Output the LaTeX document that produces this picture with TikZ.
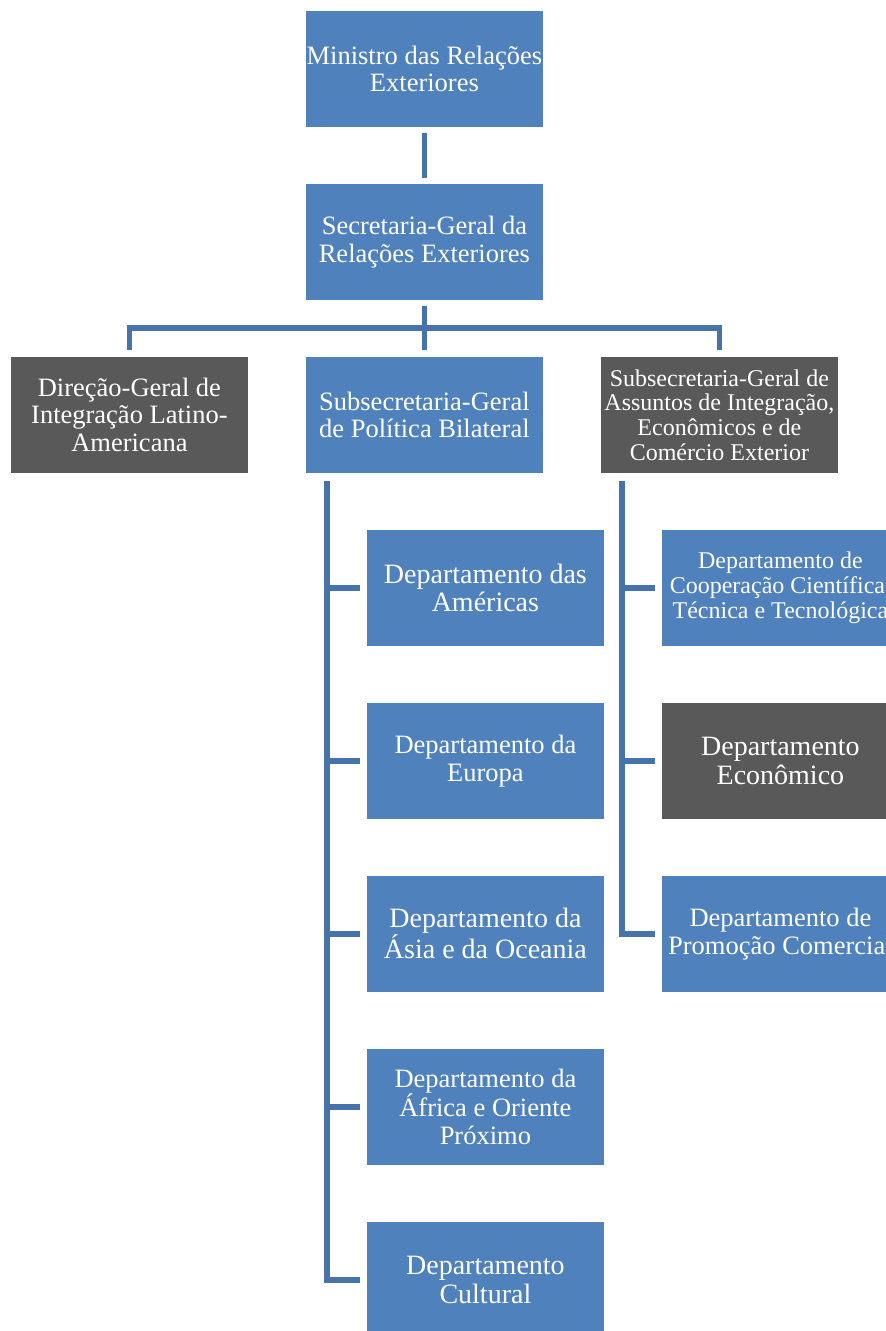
\documentclass[tikz,border=0pt]{standalone}
\usepackage{fontspec}
\setmainfont{Liberation Serif}
\definecolor{boxblue}{RGB}{79,129,189}
\definecolor{boxgray}{RGB}{89,89,89}
\definecolor{linkblue}{RGB}{70,116,170}
\begin{document}
\begin{tikzpicture}[x=1pt,y=-1pt,
  unit/.style={rectangle,minimum width=238pt,minimum height=117pt,inner sep=0pt,
    draw=white,line width=0.8pt,text=white,align=center,anchor=north west,
    font=\fontsize{26.5}{27.5}\selectfont},
  blueunit/.style={unit,fill=boxblue},
  grayunit/.style={unit,fill=boxgray},
  bigtext/.style={font=\fontsize{28}{28.5}\selectfont},
  smalltext/.style={font=\fontsize{24}{24.7}\selectfont},
  link/.style={draw=linkblue,line width=5.5pt}]
\path[use as bounding box,clip] (0,0) rectangle (886,1331);
\fill[white] (0,0) rectangle (886,1331);

% top of the hierarchy
\node[blueunit] (minis) at (305,10) {Ministro das Relações\\Exteriores};
\node[blueunit] (secgeral) at (305,183) {Secretaria-Geral da\\Relações Exteriores};

% second level
\node[grayunit] (dgil) at (10,356) {Direção-Geral de\\Integração Latino-\\Americana};
\node[blueunit] (sgpb) at (305,356) {Subsecretaria-Geral\\de Política Bilateral};
\node[grayunit,smalltext] (sgaie) at (600,356) {Subsecretaria-Geral de\\Assuntos de Integração,\\Econômicos e de\\Comércio Exterior};

% departments under political affairs
\node[blueunit,bigtext] (dam) at (366,529) {Departamento das\\Américas};
\node[blueunit] (deu) at (366,702) {Departamento da\\Europa};
\node[blueunit,bigtext] (dao) at (366,875) {Departamento da\\Ásia e da Oceania};
\node[blueunit] (daf) at (366,1048) {Departamento da\\África e Oriente\\Próximo};
\node[blueunit,bigtext] (dcu) at (366,1221) {Departamento\\Cultural};

% departments under economic affairs
\node[blueunit,smalltext] (dcct) at (661,529) {Departamento de\\Cooperação Científica,\\Técnica e Tecnológica};
\node[grayunit,bigtext] (dec) at (661,702) {Departamento\\Econômico};
\node[blueunit] (dpc) at (661,875) {Departamento de\\Promoção Comercial};

% connectors between levels
\draw[link] ([yshift=-5pt]minis.south) -- ([yshift=5pt]secgeral.north);
\coordinate (bar) at (424,328);
\draw[link] ([yshift=-5pt]secgeral.south) -- ([yshift=6pt]sgpb.north);
\draw[link] ([yshift=6pt]dgil.north) |- (bar) -| ([yshift=6pt]sgaie.north);

% political affairs trunk
\coordinate (ptrunk) at ([xshift=22pt,yshift=-7pt]sgpb.south west);
\draw[link] (ptrunk) |- ([xshift=-6pt]dcu.west);
\foreach \d in {dam,deu,dao,daf}
  \draw[link] (ptrunk |- \d.west) -- ([xshift=-6pt]\d.west);

% economic affairs trunk
\coordinate (etrunk) at ([xshift=22pt,yshift=-7pt]sgaie.south west);
\draw[link] (etrunk) |- ([xshift=-6pt]dpc.west);
\foreach \d in {dcct,dec}
  \draw[link] (etrunk |- \d.west) -- ([xshift=-6pt]\d.west);
\end{tikzpicture}
\end{document}
